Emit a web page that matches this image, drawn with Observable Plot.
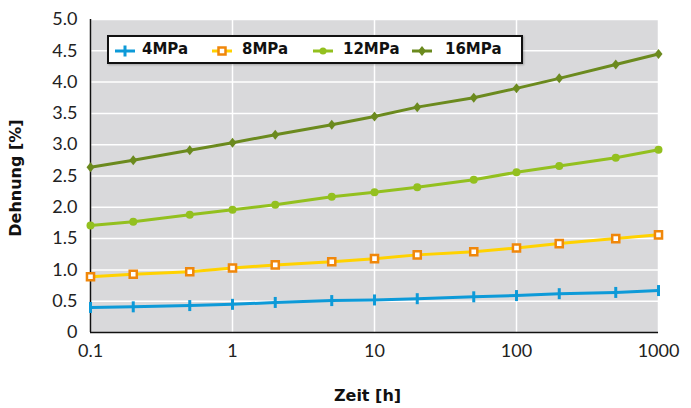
<!DOCTYPE html>
<html>
<head>
<meta charset="utf-8">
<script src="https://cdn.jsdelivr.net/npm/d3@7"></script>
<script src="https://cdn.jsdelivr.net/npm/@observablehq/plot@0.6"></script>
<style>
  html, body { margin: 0; padding: 0; background: #fff; }
  #wrap { position: relative; width: 691px; height: 408px; font-family: Lato, "DejaVu Sans", sans-serif; }
  #legend { position: absolute; left: 107px; top: 35px; width: 412px; height: 25px; border: 2px solid #111; background: #fff;
            box-shadow: 1px 1px 2px rgba(0,0,0,0.25); }
  .sample { position: absolute; top: 5px; }
  .lab { position: absolute; top: 0; line-height: 25px; font-family: "DejaVu Sans", sans-serif; font-weight: bold; font-size: 15px; color: #111; }
</style>
</head>
<body>
<div id="wrap"></div>
<script>
const hours = [0.1, 0.2, 0.5, 1, 2, 5, 10, 20, 50, 100, 200, 500, 1000];
const seriesNames = ["4MPa", "8MPa", "12MPa", "16MPa"];
const mpa4  = [0.40, 0.41, 0.43, 0.45, 0.48, 0.51, 0.52, 0.54, 0.57, 0.59, 0.62, 0.64, 0.67];
const mpa8  = [0.89, 0.93, 0.97, 1.03, 1.08, 1.13, 1.18, 1.24, 1.29, 1.35, 1.42, 1.50, 1.56];
const mpa12 = [1.71, 1.77, 1.88, 1.96, 2.04, 2.17, 2.24, 2.32, 2.44, 2.56, 2.66, 2.79, 2.92];
const mpa16 = [2.64, 2.75, 2.91, 3.03, 3.16, 3.32, 3.45, 3.60, 3.75, 3.90, 4.06, 4.28, 4.45];
const xTicks = [0.1, 1, 10, 100, 1000];
const yTicks = [0, 0.5, 1.0, 1.5, 2.0, 2.5, 3.0, 3.5, 4.0, 4.5, 5.0];

const lineColors = ["#0d9ad8", "#ffd200", "#93c01f", "#6b8a1e"];
const markColors = ["#0d9ad8", "#f0870a", "#93c01f", "#6b8a1e"];

const rows = (vals) => hours.map((h, i) => ({h, v: vals[i]}));
const d4 = rows(mpa4), d8 = rows(mpa8), d12 = rows(mpa12), d16 = rows(mpa16);

const vbar = { draw(ctx) { ctx.rect(-1.5, -5.5, 3, 11); } };
const diamond = { draw(ctx) { ctx.moveTo(0, -5); ctx.lineTo(4, 0); ctx.lineTo(0, 5); ctx.lineTo(-4, 0); ctx.closePath(); } };

const chart = Plot.plot({
  width: 691, height: 408,
  marginLeft: 90, marginRight: 33, marginTop: 19, marginBottom: 76,
  style: { fontFamily: "Lato, 'DejaVu Sans', sans-serif", background: "#fff" },
  x: { type: "log", domain: [0.1, 1000] },
  y: { domain: [0, 5] },
  marks: [
    Plot.frame({ fill: "#d9d9db", stroke: null }),
    Plot.gridX(xTicks, { stroke: "#fff", strokeOpacity: 1, strokeWidth: 1.5 }),
    Plot.gridY(yTicks.slice(1), { stroke: "#fff", strokeOpacity: 1, strokeWidth: 1.5 }),
    Plot.ruleX([0.1], { stroke: "#111", strokeWidth: 1.5 }),
    Plot.ruleY([0], { stroke: "#111", strokeWidth: 1.5 }),
    Plot.axisX(xTicks, { tickSize: 0, tickPadding: 12, fontSize: 18, fill: "#222", label: null, tickFormat: d => String(d) }),
    Plot.axisY(yTicks, { tickSize: 0, tickPadding: 13, fontSize: 18, fill: "#222", label: null, tickFormat: d => d === 0 ? "0" : d.toFixed(1) }),
    Plot.text(["Dehnung [%]"], { frameAnchor: "left", textAnchor: "middle", lineAnchor: "middle", dx: -75, dy: 2, rotate: -90, fontSize: 16, fontWeight: "bold", fontFamily: "DejaVu Sans", fill: "#111" }),
    Plot.text(["Zeit [h]"], { frameAnchor: "bottom", textAnchor: "middle", lineAnchor: "middle", dy: 63, dx: -7, fontSize: 16, fontWeight: "bold", fontFamily: "DejaVu Sans", fill: "#111" }),
    Plot.line(d4, { x: "h", y: "v", stroke: lineColors[0], strokeWidth: 3 }),
    Plot.dot(d4, { x: "h", y: "v", symbol: vbar, fill: markColors[0], stroke: null }),
    Plot.line(d8, { x: "h", y: "v", stroke: lineColors[1], strokeWidth: 3 }),
    Plot.dot(d8, { x: "h", y: "v", symbol: "square", r: 4, fill: "#fff", stroke: markColors[1], strokeWidth: 2.5 }),
    Plot.line(d12, { x: "h", y: "v", stroke: lineColors[2], strokeWidth: 3 }),
    Plot.dot(d12, { x: "h", y: "v", r: 4, fill: markColors[2], stroke: null }),
    Plot.line(d16, { x: "h", y: "v", stroke: lineColors[3], strokeWidth: 3 }),
    Plot.dot(d16, { x: "h", y: "v", symbol: diamond, fill: markColors[3], stroke: null })
  ]
});

const wrap = document.getElementById("wrap");
wrap.appendChild(chart);

// legend
const legend = document.createElement("div");
legend.id = "legend";
const sampleX = [6, 103, 204, 303];
const labelX = [33, 133, 234, 336];
const samples = [
  `<svg width="20" height="14"><line x1="0" y1="7" x2="20" y2="7" stroke="${lineColors[0]}" stroke-width="3"/><rect x="8.5" y="1.5" width="3" height="11" fill="${markColors[0]}"/></svg>`,
  `<svg width="20" height="14"><line x1="0" y1="7" x2="20" y2="7" stroke="${lineColors[1]}" stroke-width="3"/><rect x="6.5" y="3.5" width="7" height="7" fill="#fff" stroke="${markColors[1]}" stroke-width="2.5"/></svg>`,
  `<svg width="20" height="14"><line x1="0" y1="7" x2="20" y2="7" stroke="${lineColors[2]}" stroke-width="3"/><circle cx="10" cy="7" r="3.5" fill="${markColors[2]}"/></svg>`,
  `<svg width="20" height="14"><line x1="0" y1="7" x2="20" y2="7" stroke="${lineColors[3]}" stroke-width="3"/><path d="M10,2L14,7L10,12L6,7Z" fill="${markColors[3]}"/></svg>`
];
seriesNames.forEach((name, i) => {
  const s = document.createElement("div");
  s.className = "sample";
  s.style.left = sampleX[i] + "px";
  s.innerHTML = samples[i];
  legend.appendChild(s);
  const t = document.createElement("div");
  t.className = "lab";
  t.style.left = labelX[i] + "px";
  t.textContent = name;
  legend.appendChild(t);
});
wrap.appendChild(legend);
</script>
</body>
</html>
